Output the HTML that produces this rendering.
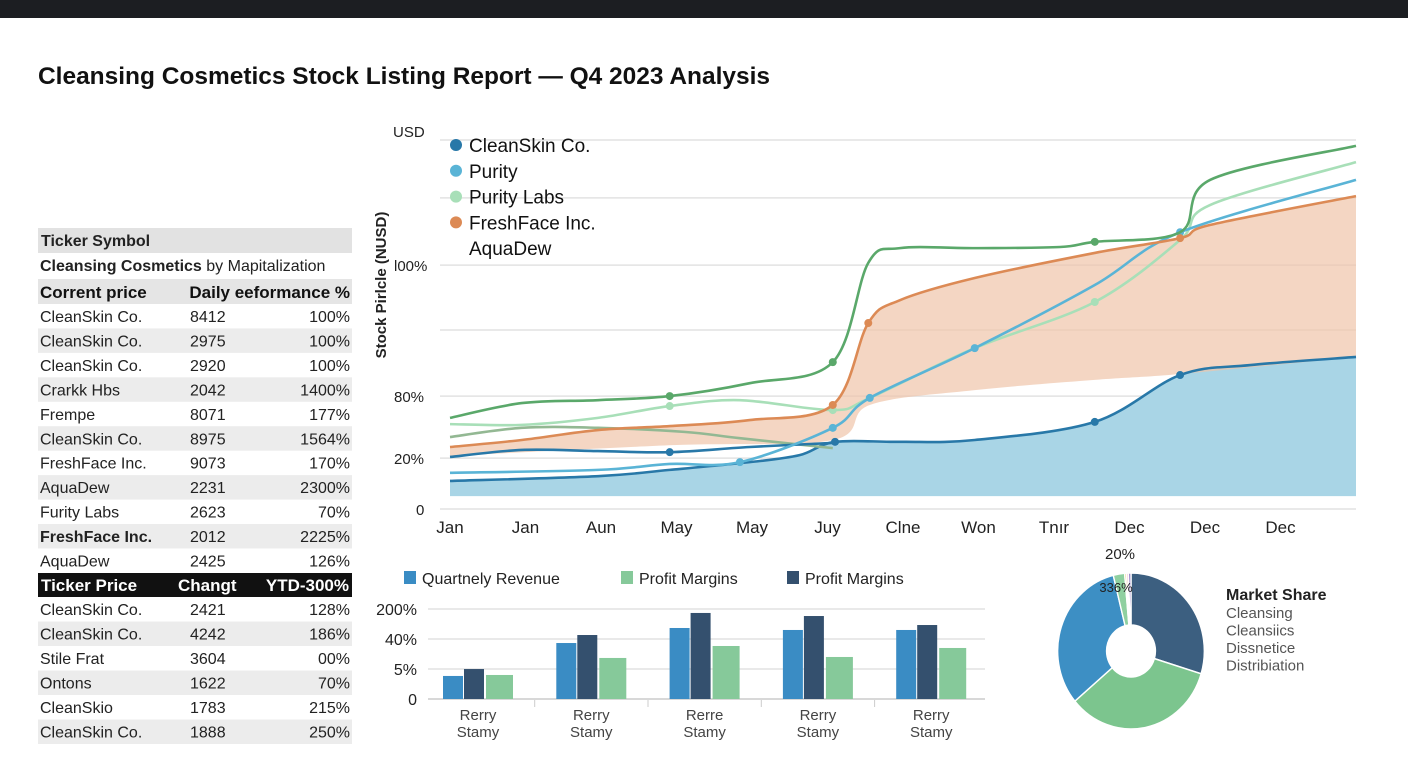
<!DOCTYPE html>
<html><head><meta charset="utf-8"><style>
html,body{margin:0;padding:0;background:#fff;}
svg{display:block;font-family:"Liberation Sans",sans-serif;}
</style></head><body>
<svg id="root" width="1408" height="768" viewBox="0 0 1408 768" xmlns="http://www.w3.org/2000/svg">
<rect x="0" y="0" width="1408" height="18" fill="#1c1e22"/>
<text x="38" y="84" font-size="24" font-weight="bold" fill="#111" textLength="732" lengthAdjust="spacingAndGlyphs">Cleansing Cosmetics Stock Listing Report — Q4 2023 Analysis</text>
<g id="table"></g>
<g id="line"></g>
<g id="bars"></g>
<g id="pie"></g>
</svg>
<script>
const NS="http://www.w3.org/2000/svg";
function mk(tag,attrs,parent,txt){const e=document.createElementNS(NS,tag);for(const k in attrs)e.setAttribute(k,attrs[k]);if(txt!==undefined)e.textContent=txt;parent.appendChild(e);return e;}

// ---------- TABLE ----------
const tableRows1=[["CleanSkin Co.","8412","100%"],["CleanSkin Co.","2975","100%"],["CleanSkin Co.","2920","100%"],["Crarkk Hbs","2042","1400%"],["Frempe","8071","177%"],["CleanSkin Co.","8975","1564%"],["FreshFace Inc.","9073","170%"],["AquaDew","2231","2300%"],["Furity Labs","2623","70%"],["FreshFace Inc.","2012","2225%"],["AquaDew","2425","126%"]];
const tableRows2=[["CleanSkin Co.","2421","128%"],["CleanSkin Co.","4242","186%"],["Stile Frat","3604","00%"],["Ontons","1622","70%"],["CleanSkio","1783","215%"],["CleanSkin Co.","1888","250%"]];
const T=document.getElementById('table');
let r;
r=mk('rect',{x:38,y:228,width:314,height:25,fill:'#e2e2e2'},T);

r=mk('text',{x:41,y:246,'font-size':16,'font-weight':'bold',fill:'#222'},T,'Ticker Symbol');

r=mk('text',{x:40,y:271,'font-size':16,fill:'#222'},T);

mk('tspan',{'font-weight':'bold'},r,'Cleansing Cosmetics');mk('tspan',{},r,' by Mapitalization');
r=mk('rect',{x:38,y:279,width:314,height:25,fill:'#e5e5e5'},T);

r=mk('text',{x:40,y:298,'font-size':17,'font-weight':'bold',fill:'#111'},T,'Corrent price');

r=mk('text',{x:350,y:298,'font-size':17,'font-weight':'bold',fill:'#111','text-anchor':'end'},T,'Daily eeformance %');

function rows(list,y0,h){list.forEach((row,i)=>{const y=y0+i*h;
 if(i%2===1){const b=mk('rect',{x:38,y:y,width:314,height:h,fill:'#ececec'},T);}
 const bold=(row[0]==='FreshFace Inc.'&&row[1]==='2012');
 const a=mk('text',{x:40,y:y+18,'font-size':16,fill:'#222','font-weight':bold?'bold':'normal'},T,row[0]);
 
 const b2=mk('text',{x:190,y:y+18,'font-size':16,fill:'#222'},T,row[1]);
 
 const c=mk('text',{x:350,y:y+18,'font-size':16,fill:'#222','text-anchor':'end'},T,row[2]);
 
});}
rows(tableRows1,304,24.45);
r=mk('rect',{x:38,y:573,width:314,height:24,fill:'#111'},T);

r=mk('text',{x:41,y:591,'font-size':17,'font-weight':'bold',fill:'#fff'},T,'Ticker Price');

r=mk('text',{x:178,y:591,'font-size':17,'font-weight':'bold',fill:'#fff'},T,'Changt');

r=mk('text',{x:349,y:591,'font-size':17,'font-weight':'bold',fill:'#fff','text-anchor':'end'},T,'YTD-300%');

rows(tableRows2,597,24.5);

// ---------- LINE CHART ----------
const months=["Jan","Jan","Aun","May","May","Juy","Clne","Won","Tnır","Dec","Dec","Dec"];
const yTickVals=[100,84.3,66.1,48.5,30.6,13.8,0];
const yTickLabels=["USD","","l00%","","80%","20%","0"];
const dgX=[0,0.95,1.96,2.91,3.97,5.07,5.54,5.96,6.95,8.08,8.54,9.67,10.07,12];
const dgV=[24.7,28.7,29.5,30.6,34.1,39.8,66.7,70.7,70.7,71,72.4,75,89.2,98.4];
const lgX=[0,0.95,1.96,2.91,3.84,5.07,5.56,6.95,8.54,9.67,10.07,12];
const lgV=[23,22.8,24.7,27.9,29.5,26.8,30.1,43.6,56.1,72.9,82.4,94];
const mgX=[0,0.95,1.96,3.1,3.84,5.07];
const mgV=[19.5,22,22,20.9,19.2,16.5];
const orX=[0,0.95,1.96,2.95,3.97,5.07,5.54,5.96,6.95,8.54,9.67,10.07,12];
const orV=[16.8,18.7,21.4,22.5,24.1,28.2,50.4,56.6,62.6,69.4,73.4,77,84.8];
const orLowX=[0,2.95,5.07,5.56,6.95,8.54,9.67,12];
const orLowV=[14.4,17.3,18.7,28.2,32.2,35,36.6,41.2];
const lbX=[0,1.96,2.91,3.84,5.07,5.56,6.95,8.54,9.67,12];
const lbV=[9.8,10.6,12.2,12.7,22,30.1,43.6,60.7,75,89.2];
const dbX=[0,0.95,1.96,2.91,3.97,5.07];
const dbV=[14.1,16,15.7,15.4,16.8,17.9];
const aqX=[0,1.96,2.91,3.97,4.63,5.1,5.96,6.95,8.54,9.67,10.6,12];
const aqV=[7.6,8.9,10.6,12.7,14.6,18.2,18.2,18.7,23.6,36.3,39,41.2];
const aqBase=3.5;
const legendNames=["CleanSkin Co.","Purity","Purity Labs","FreshFace Inc.","AquaDew"];
const legendColors=["#2878a8","#5ab4d6","#a8dfb8","#dc8a55",null];

const X=i=>450+i*75.5;
const Y=v=>509-v*3.69;
function smooth(pts){let d=`M${pts[0][0]},${pts[0][1]}`;for(let i=0;i<pts.length-1;i++){const p0=pts[Math.max(0,i-1)],p1=pts[i],p2=pts[i+1],p3=pts[Math.min(pts.length-1,i+2)];const t=6;d+=` C${p1[0]+(p2[0]-p0[0])/t},${p1[1]+(p2[1]-p0[1])/t} ${p2[0]-(p3[0]-p1[0])/t},${p2[1]-(p3[1]-p1[1])/t} ${p2[0]},${p2[1]}`;}return d;}
const pts=(xs,vs)=>xs.map((x,i)=>[X(x),Y(vs[i])]);
const L=document.getElementById('line');
yTickVals.forEach((v,i)=>{
 const g=mk('line',{x1:440,x2:1356,y1:Y(v),y2:Y(v),stroke:'#e2e2e2','stroke-width':1.5},L);
 
 const lab=yTickLabels[i];
 if(lab){const t=mk('text',{x:i===0?393:(v===0?416:394),y:Y(v)+(i===0?-3:6),'font-size':15,fill:'#222'},L,lab);
 }
});
let e=mk('text',{x:0,y:0,'font-size':15,'font-weight':'bold',fill:'#222','text-anchor':'middle',transform:'translate(386,285) rotate(-90)'},L,'Stock Pirlcle (NUSD)');

months.forEach((m,i)=>{const t=mk('text',{x:X(i),y:533,'font-size':17,fill:'#222','text-anchor':'middle'},L,m);
 });
const aqP=pts(aqX,aqV);
e=mk('path',{d:smooth(aqP)+` L${X(12)},${Y(aqBase)} L${X(0)},${Y(aqBase)} Z`,fill:'#a9d5e6'},L);

const orP=pts(orX,orV),olP=pts(orLowX,orLowV).reverse();
e=mk('path',{d:smooth(orP)+' L'+smooth(olP).slice(1)+' Z',fill:'#f0c4aa','fill-opacity':0.7},L);

function line(xs,vs,color,name,markIdx,w){
 e=mk('path',{d:smooth(pts(xs,vs)),fill:'none',stroke:color,'stroke-width':w||2.6},L);
 
 markIdx.forEach(k=>{const c=mk('circle',{cx:X(xs[k]),cy:Y(vs[k]),r:4,fill:color},L);
  });
}
line(aqX,aqV,'#2878a8','aquadew-line',[5,8,9]);
line(mgX,mgV,'#93b893','muted-green-line',[]);
line(lgX,lgV,'#a8dfb8','purity-labs-line',[3,5,8]);
line(dbX,dbV,'#2878a8','cleanskin-line',[3]);
line(lbX,lbV,'#5ab4d6','purity-line',[3,4,5,6,8]);
line(orX,orV,'#dc8a55','freshface-line',[5,6,10]);
line(dgX,dgV,'#5aa86a','dark-green-line',[3,5,10]);
legendNames.forEach((n,i)=>{const y=145+i*25.8;
 if(legendColors[i]){const c=mk('circle',{cx:456,cy:y,r:6,fill:legendColors[i]},L);}
 const t=mk('text',{x:469,y:y+7,'font-size':19,fill:'#111'},L,n);
 });

// ---------- BAR CHART ----------
const barCats=["Rerry","Rerry","Rerre","Rerry","Rerry"];
const revenue=[25.6,62.2,78.9,76.7,76.7];
const marginsDark=[33.3,71.1,95.6,92.2,82.2];
const marginsGreen=[26.7,45.6,58.9,46.7,56.7];
const barTickVals=[100,66.7,33.3,0];
const barTickLabels=["200%","40%","5%","0"];
const B=document.getElementById('bars');
const BY=v=>699-v*0.9, BX=i=>478+i*113.3;
barTickVals.forEach((v,i)=>{const g=mk('line',{x1:428,x2:985,y1:BY(v),y2:BY(v),stroke:i===3?'#ccc':'#e2e2e2','stroke-width':1.5},B);
 
 const t=mk('text',{x:417,y:BY(v)+6,'font-size':16,fill:'#222','text-anchor':'end'},B,barTickLabels[i]);
 });
barCats.forEach((c,i)=>{const cx=BX(i);
 let b=mk('rect',{x:cx-35,y:BY(revenue[i]),width:20,height:699-BY(revenue[i]),fill:'#3a8cc4'},B);
 
 b=mk('rect',{x:cx-14,y:BY(marginsDark[i]),width:20,height:699-BY(marginsDark[i]),fill:'#34506e'},B);
 
 b=mk('rect',{x:cx+8,y:BY(marginsGreen[i]),width:27,height:699-BY(marginsGreen[i]),fill:'#86c99a'},B);
 
 let t=mk('text',{x:cx,y:720,'font-size':15,fill:'#444','text-anchor':'middle'},B,c);
 
 t=mk('text',{x:cx,y:737,'font-size':15,fill:'#444','text-anchor':'middle'},B,'Stamy');
 
 if(i>0){const tk=mk('line',{x1:cx-56.6,x2:cx-56.6,y1:700,y2:707,stroke:'#ccc'},B);}
});
[["#3a8cc4","Quartnely Revenue",404],["#86c99a","Profit Margins",621],["#34506e","Profit Margins",787]].forEach(l=>{
 const s=mk('rect',{x:l[2],y:571,width:12,height:13,fill:l[0]},B);
 const t=mk('text',{x:l[2]+18,y:584,'font-size':16,fill:'#222'},B,l[1]);});

// ---------- DONUT ----------
const shareNames=["Navy","Green","Blue","Light green","Yellow","Pink","Purple"];
const shareVals=[107,123,116,9,1.5,1.5,2];
const shareColors=["#3c5f80","#7cc58e","#3d8fc4","#8fd0a0","#e8d070","#e8a0b0","#8a70c0"];
const P=document.getElementById('pie');
const pcx=1131,pcy=651,R=78,Rh=26;
const tot=shareVals.reduce((a,b)=>a+b,0);let acc=0;
const pg=mk('g',{transform:`translate(${pcx},${pcy}) scale(0.94,1)`},P);
shareVals.forEach((v,i)=>{const a0=acc/tot*2*Math.PI;acc+=v;const a1=acc/tot*2*Math.PI;
 const p=(a,r)=>[r*Math.sin(a),-r*Math.cos(a)];const [x0,y0]=p(a0,R),[x1,y1]=p(a1,R),[x2,y2]=p(a1,Rh),[x3,y3]=p(a0,Rh);const lg=(a1-a0)>Math.PI?1:0;
 const s=mk('path',{d:`M${x0},${y0} A${R},${R} 0 ${lg} 1 ${x1},${y1} L${x2},${y2} A${Rh},${Rh} 0 ${lg} 0 ${x3},${y3} Z`,fill:shareColors[i],stroke:'#fff','stroke-width':1.5},pg);
 });
e=mk('text',{x:1120,y:559,'font-size':15,fill:'#222','text-anchor':'middle'},P,'20%');
e=mk('text',{x:1116,y:592,'font-size':13,fill:'#222','text-anchor':'middle'},P,'336%');
e=mk('text',{x:1226,y:600,'font-size':16,'font-weight':'bold',fill:'#222'},P,'Market Share');
["Cleansing","Cleansiics","Dissnetice","Distribiation"].forEach((n,i)=>{const t=mk('text',{x:1226,y:618+i*17.5,'font-size':15,fill:'#555'},P,n);});
</script>
</body></html>
